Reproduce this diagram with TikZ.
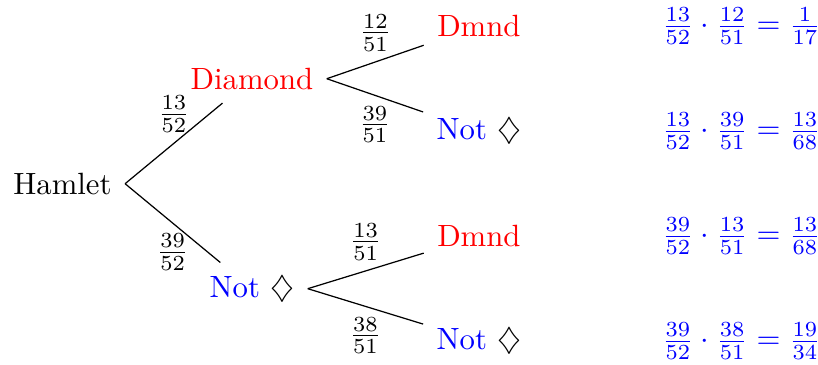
\documentclass[tikz,border=0pt]{standalone}
\usepackage{amsmath,amssymb}
\usepackage{tikz}

\begin{document}
\begin{tikzpicture}[
  outcome/.style={inner sep=4.2pt},
  hit/.style={outcome,text=red},
  miss/.style={outcome},
  result/.style={text=blue},
  branch/.style={line width=0.4pt}
]
\useasboundingbox (0,0) rectangle (9.35,-4.17);
% first draw
\node[outcome] (hamlet) at (0.714,-2.10) {Hamlet};
\node[hit] (diamond) at (2.88,-0.90) {Diamond};
\node[miss] (notdiamond) at (2.88,-3.30) {\textcolor{blue}{Not} $\diamondsuit$};

% second draw
\node[hit] (dd) at (5.474,-0.30) {Dmnd};
\node[miss] (dn) at (5.474,-1.50) {\textcolor{blue}{Not} $\diamondsuit$};
\node[hit] (nd) at (5.474,-2.70) {Dmnd};
\node[miss] (nn) at (5.474,-3.90) {\textcolor{blue}{Not} $\diamondsuit$};

% products
\node[result] (pdd) at (8.475,-0.30) {$\frac{13}{52}\cdot\frac{12}{51}=\frac{1}{17}$};
\node[result] (pdn) at (8.475,-1.50) {$\frac{13}{52}\cdot\frac{39}{51}=\frac{13}{68}$};
\node[result] (pnd) at (8.475,-2.70) {$\frac{39}{52}\cdot\frac{13}{51}=\frac{13}{68}$};
\node[result] (pnn) at (8.475,-3.90) {$\frac{39}{52}\cdot\frac{38}{51}=\frac{19}{34}$};

\draw[branch] (hamlet.east) -- node[above] {$\frac{13}{52}$} (diamond);
\draw[branch] (hamlet.east) -- node[below] {$\frac{39}{52}$} (notdiamond);
\draw[branch] (diamond.east) -- node[above] {$\frac{12}{51}$} (dd);
\draw[branch] (diamond.east) -- node[below] {$\frac{39}{51}$} (dn);
\draw[branch] (notdiamond.east) -- node[above] {$\frac{13}{51}$} (nd);
\draw[branch] (notdiamond.east) -- node[below] {$\frac{38}{51}$} (nn);
\end{tikzpicture}
\end{document}
